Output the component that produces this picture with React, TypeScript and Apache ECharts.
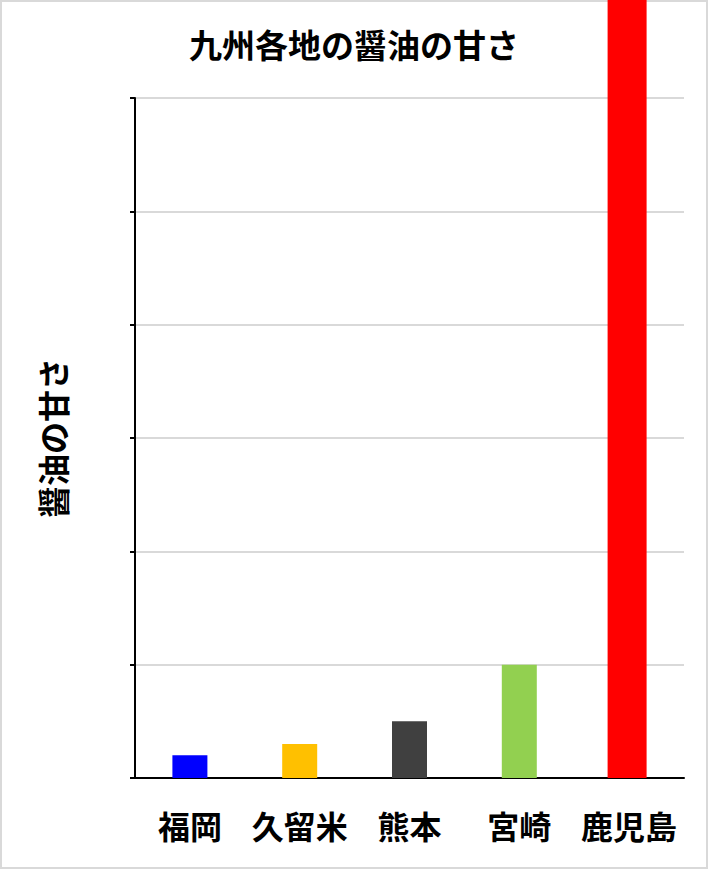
import React, { useEffect, useRef } from "react";
import * as echarts from "echarts";

const categories = ["福岡", "久留米", "熊本", "宮崎", "鹿児島"];
const sweetness = [0.2, 0.3, 0.5, 1.0, 7.0];
const barColors = ["#0000ff", "#ffc000", "#404040", "#92d050", "#ff0000"];
const chartTitle = "九州各地の醤油の甘さ";
const yAxisTitle = "醤油の甘さ";

const FONT = '"Noto Sans CJK JP", "Noto Sans", sans-serif';

export default function App() {
  const ref = useRef<HTMLDivElement>(null);
  useEffect(() => {
    if (!ref.current) return;
    const chart = echarts.init(ref.current, null, { renderer: "svg" });
    const last = categories.length - 1;
    const mainData = sweetness.map((v, i) =>
      i === last ? "-" : { value: v, itemStyle: { color: barColors[i] } }
    );
    const lastData = sweetness.map((v, i) =>
      i === last ? { value: v, itemStyle: { color: barColors[i] } } : "-"
    );
    chart.setOption({
      animation: false,
      backgroundColor: "#ffffff",
      textStyle: { fontFamily: FONT },
      title: {
        text: chartTitle,
        left: "center",
        top: 22,
        textStyle: { fontFamily: FONT, fontSize: 33, fontWeight: "bold", color: "#000" },
      },
      graphic: [
        {
          type: "rect",
          z: 0,
          shape: { x: 1, y: 1, width: 706, height: 867 },
          style: { fill: "transparent", stroke: "#d9d9d9", lineWidth: 2 },
        },
      ],
      grid: { left: 135, right: 24, top: 98, bottom: 91, containLabel: false },
      xAxis: {
        type: "category",
        data: categories,
        axisLine: { show: true, lineStyle: { color: "#000", width: 2 } },
        axisTick: { show: false },
        axisLabel: {
          interval: 0,
          margin: 31,
          fontFamily: FONT,
          fontSize: 32,
          fontWeight: "bold",
          color: "#000",
        },
      },
      yAxis: {
        type: "value",
        min: 0,
        max: 6,
        interval: 1,
        name: yAxisTitle,
        nameLocation: "middle",
        nameGap: 67,
        nameTextStyle: { fontFamily: FONT, fontSize: 32, fontWeight: "bold", color: "#000" },
        axisLine: { show: true, lineStyle: { color: "#000", width: 2 } },
        axisTick: { show: true, length: 5, lineStyle: { color: "#000", width: 2 } },
        axisLabel: { show: false },
        splitLine: { show: true, lineStyle: { color: "#d9d9d9", width: 2 } },
      },
      series: [
        {
          type: "bar",
          data: mainData,
          barWidth: 35,
          barGap: "-111.43%",
          clip: false,
        },
        {
          type: "bar",
          data: lastData,
          barWidth: 39,
          barGap: "-111.43%",
          clip: false,
        },
      ],
    });
    return () => chart.dispose();
  }, []);
  return (
    <div
      ref={ref}
      style={{ position: "fixed", left: 0, top: 0, width: 708, height: 869 }}
    />
  );
}
